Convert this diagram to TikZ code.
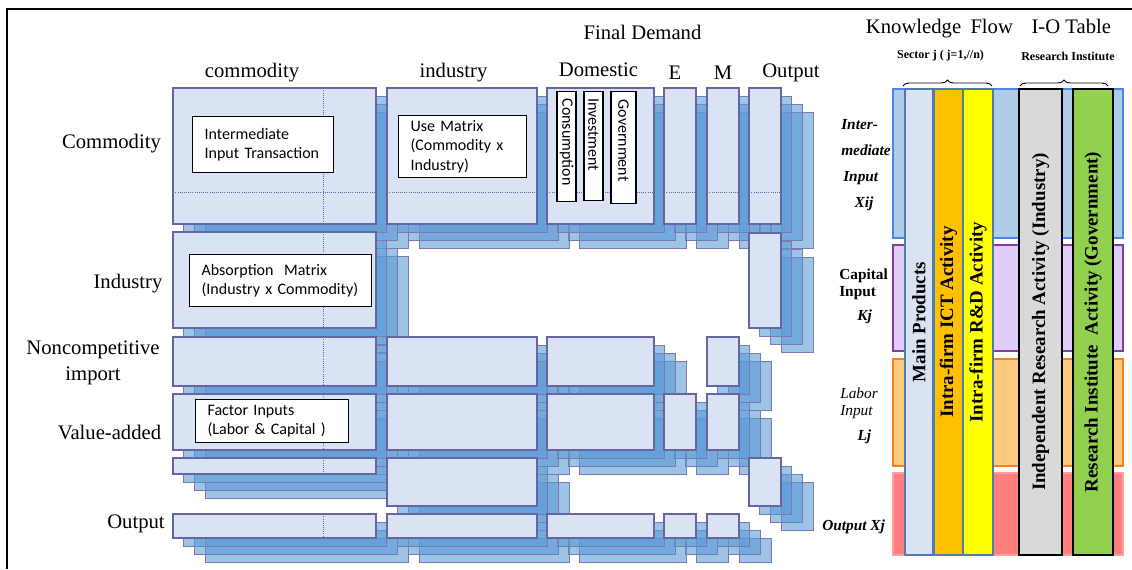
\documentclass[tikz,border=0pt]{standalone}
\usepackage{fontspec}
\setmainfont{Liberation Serif}
\newfontfamily\boxfont{Carlito}
\usetikzlibrary{fit,decorations.pathreplacing}
\pgfdeclarelayer{background}
\pgfsetlayers{background,main}

\definecolor{cellfill}{HTML}{DAE3F3}
\definecolor{celledge}{HTML}{6666A3}
\definecolor{shadefill}{HTML}{5B9BD5}
\definecolor{shadeedge}{HTML}{7A7AB0}
\definecolor{bandblue}{HTML}{AECBE8}
\definecolor{bandblueedge}{HTML}{4A86E8}
\definecolor{bandlilac}{HTML}{E2CCF8}
\definecolor{bandlilacedge}{HTML}{7F3F98}
\definecolor{bandorange}{HTML}{FFCA80}
\definecolor{bandorangeedge}{HTML}{F58220}
\definecolor{bandred}{HTML}{FF7F7F}
\definecolor{bandrededge}{HTML}{FF9EA0}
\definecolor{coledge}{HTML}{4E7CAD}
\definecolor{ictorange}{HTML}{FFC000}
\definecolor{rdyellow}{HTML}{FFFF00}
\definecolor{indgray}{HTML}{D9D9D9}
\definecolor{govgreen}{HTML}{92D050}

\tikzset{
  cellbox/.style={draw=celledge, line width=2pt, fill=cellfill, inner sep=0pt},
  shadowbox/.style={draw=shadeedge, line width=0.6pt, fill=shadefill, fill opacity=0.6},
  gridline/.style={celledge, densely dotted, line width=0.6pt, shorten >=1.2pt, shorten <=1.2pt},
  textbox/.style={draw, fill=white, line width=0.9pt, inner sep=0pt, align=left,
    font=\boxfont\fontsize{12}{14.6}\selectfont},
  head/.style={font=\fontsize{15.5}{19.5}\selectfont, inner sep=0pt},
  smallhead/.style={font=\bfseries\fontsize{9}{11}\selectfont, inner sep=0pt},
  sidelab/.style={font=\bfseries\itshape\fontsize{11.5}{19.5}\selectfont, inner sep=0pt, align=left, anchor=west},
  band/.style={line width=1.1pt, inner sep=0pt},
  kcol/.style={rotate=90, minimum width=349.5pt, inner sep=0pt, line width=1.1pt,
    font=\bfseries\fontsize{14.2}{17}\selectfont},
  frameline/.style={line width=1pt}
}

\newcommand{\iocell}[5]{%
  \begin{pgfonlayer}{background}
    \foreach \k in {3,2,1}
      \draw[shadowbox] ({#2+10.7*\k},{#3+8*\k}) rectangle ({#4+10.7*\k},{#5+8*\k});
  \end{pgfonlayer}
  \node[cellbox, fit={(#2,#3) (#4,#5)}] (#1) {};
}

\begin{document}
\begin{tikzpicture}[x=0.75pt,y=-0.75pt]
  \useasboundingbox (0,0) rectangle (1132,569);
  \draw[frameline] (7,569) -- (7,9) -- (1132,9);

  \iocell{c-com}{173}{88}{376}{224}
  \iocell{c-ind}{387}{88}{537}{224}
  \iocell{c-dom}{547}{88}{654}{224}
  \iocell{c-exp}{664}{88}{696}{224}
  \iocell{c-imp}{707}{88}{739}{224}
  \iocell{c-out}{749}{88}{781}{224}
  \iocell{i-com}{173}{232}{376}{328}
  \iocell{i-out}{749}{233}{781}{328}
  \iocell{n-com}{173}{337}{376}{386}
  \iocell{n-ind}{387}{337}{537}{386}
  \iocell{n-dom}{547}{337}{654}{386}
  \iocell{n-imp}{707}{337}{739}{386}
  \iocell{v-com}{173}{394}{376}{450}
  \iocell{v-ind}{387}{394}{537}{450}
  \iocell{v-dom}{547}{394}{654}{450}
  \iocell{v-exp}{664}{394}{696}{450}
  \iocell{v-imp}{707}{394}{739}{450}
  \iocell{t-com}{173}{458}{376}{474}
  \iocell{t-ind}{387}{458}{537}{506}
  \iocell{t-out}{749}{458}{781}{506}
  \iocell{o-com}{173}{514}{376}{538}
  \iocell{o-ind}{387}{514}{537}{538}
  \iocell{o-dom}{547}{514}{654}{538}
  \iocell{o-exp}{664}{514}{696}{538}
  \iocell{o-imp}{707}{514}{739}{538}

  \coordinate (vdot) at (323,0);
  \coordinate (hdot) at (0,192);
  \foreach \c in {c-com,i-com,n-com,v-com,t-com,o-com}
    \draw[gridline] (\c.north -| vdot) -- (\c.south -| vdot);
  \foreach \c in {c-com,c-ind,c-dom,c-exp,c-imp,c-out}
    \draw[gridline] (\c.west |- hdot) -- (\c.east |- hdot);

  \begin{scope}[every node/.style={textbox, anchor=north west}]
    \node[minimum width=105.75pt, minimum height=42pt, text width=87.75pt] (itx) at (192,116) {Intermediate\\Input Transaction};
    \node[minimum width=96pt, minimum height=46.5pt, text width=78pt] (use) at (398,115) {Use Matrix\\(Commodity x\\Industry)};
    \node[minimum width=136.5pt, minimum height=39pt, text width=118.5pt] (absorb) at (189,254) {Absorption\ \ Matrix\\(Industry x Commodity)};
    \node[minimum width=114.75pt, minimum height=32.25pt, text width=96.75pt] (factor) at (195,399) {Factor Inputs\\(Labor \& Capital )};
  \end{scope}

  \begin{scope}[every node/.style={textbox, rotate=-90, anchor=west, text width=72pt}]
    \node[minimum width=82.5pt, minimum height=14.25pt] (cons) at (566.5,91) {Consumption};
    \node[minimum width=81.75pt, minimum height=14.25pt] (inv) at (593.5,91) {Investment};
    \node[minimum width=84pt, minimum height=18.75pt] (gov) at (623.5,91) {Government};
  \end{scope}

  \node[head] (fd) at (642.5,32) {Final Demand};
  \node[head] (hcom) at (252,73) {commodity};
  \node[head] (hind) at (453.5,73) {industry};
  \node[head] (hdom) at (598.5,70) {Domestic};
  \node[head] (hexp) at (675,73) {E};
  \node[head] (himp) at (723,73) {M};
  \node[head] (hout) at (791,73) {Output};

  \node[head] (rcom) at (111.5,144) {Commodity};
  \node[head] (rind) at (128,284) {Industry};
  \node[head, align=center] (rnon) at (93,363) {Noncompetitive\\import};
  \node[head] (rva) at (109.5,432) {Value-added};
  \node[head] (rout) at (136,524) {Output};

  \node[band, fill=bandblue, draw=bandblueedge, fit={(893,89) (1123,238)}] (xband) {};
  \node[band, fill=bandlilac, draw=bandlilacedge, fit={(893,245) (1123,351)}] (kband) {};
  \node[band, fill=bandorange, draw=bandorangeedge, fit={(893,359) (1123,466)}] (lband) {};
  \node[band, fill=bandred, draw=bandrededge, fit={(893,473) (1123,555)}] (oband) {};

  \node[kcol, fill=cellfill, draw=coledge, minimum height=21pt] (mp) at (919,322) {Main Products};
  \node[kcol, fill=ictorange, draw=coledge, minimum height=21.75pt] (ict) at (948.5,322) {Intra-firm ICT Activity};
  \node[kcol, fill=rdyellow, draw=coledge, minimum height=22.5pt] (rd) at (978,322) {Intra-firm R\&D Activity};
  \node[kcol, fill=indgray, draw=black, minimum height=32.25pt] (ind) at (1040.5,322) {Independent Research Activity (Industry)};
  \node[kcol, fill=govgreen, draw=black, minimum height=30pt] (ri) at (1093,322) {Research Institute\ \ Activity (Government)};

  \node[head] (kflow) at (988.5,29) {Knowledge\hspace{0.45em}Flow\hspace{0.9em}I-O Table};
  \node[smallhead] (sect) at (940.5,56) {Sector j ( j=1,//n)};
  \node[smallhead] (rinst) at (1068,56) {Research Institute};
  \coordinate (b1l) at (903,86);
  \coordinate (b1r) at (992,86);
  \coordinate (b2l) at (1020,86);
  \coordinate (b2r) at (1108,86);
  \draw[decorate, decoration={brace, amplitude=4.5pt}, line width=0.7pt] (b1l) -- (b1r);
  \draw[decorate, decoration={brace, amplitude=4.5pt}, line width=0.7pt] (b2l) -- (b2r);

  \node[sidelab] (xlab) at (841,165) {Inter-\\mediate\\\hspace*{1.5pt}Input\\\hspace*{10pt}Xij};
  \node[sidelab, font=\bfseries\fontsize{11.5}{12.75}\selectfont] (klab) at (839,296) {Capital\\Input\\[5pt]\hspace*{13.5pt}\textit{Kj}};
  \node[sidelab, font=\itshape\fontsize{11.5}{12.75}\selectfont] (llab) at (840,416) {Labor\\Input\\[6pt]\hspace*{13pt}\textbf{Lj}};
  \node[sidelab] (olab) at (822,527) {Output Xj};
\end{tikzpicture}
\end{document}
